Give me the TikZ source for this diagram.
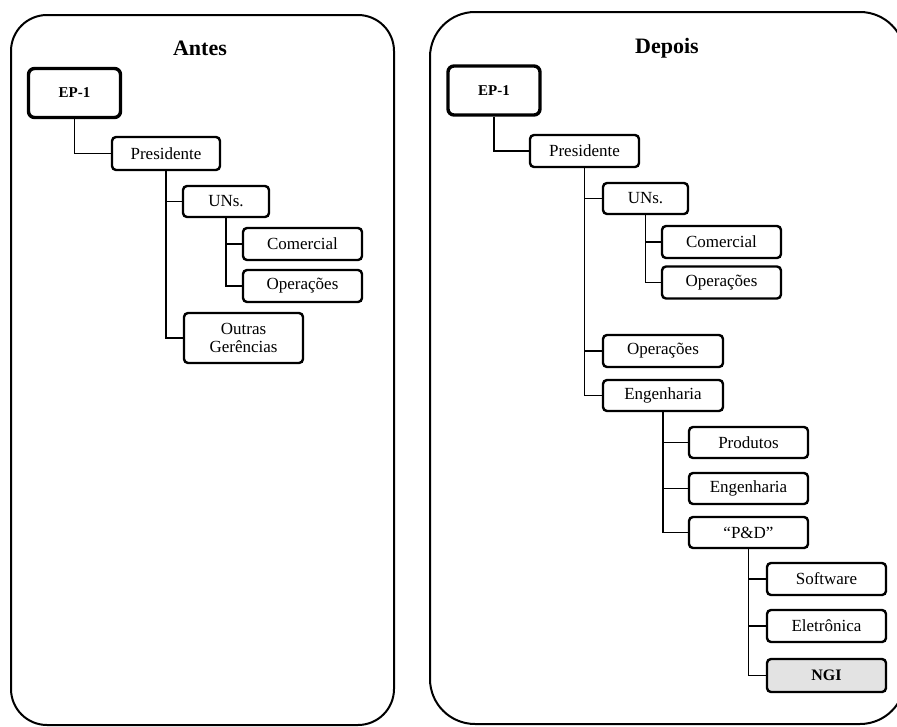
\documentclass[tikz,border=0pt]{standalone}
\usepackage{fontspec}
\setmainfont{Liberation Serif}
\usetikzlibrary{calc}
\begin{document}
\begin{tikzpicture}[x=1pt,y=-1pt,
  panel/.style={line width=2pt, rounded corners=#1},
  orgbox/.style={draw, line width=2.4pt, rounded corners=4pt, fill=white,
    minimum width=119pt, minimum height=32pt, inner sep=0pt,
    font=\fontsize{17}{18}\selectfont},
  topbox/.style={orgbox, line width=3.4pt, rounded corners=6pt,
    minimum width=92pt, minimum height=49pt, font=\fontsize{15}{17}\selectfont\bfseries},
  link/.style={line width=1.8pt},
  ttl/.style={font=\fontsize{22}{24}\selectfont\bfseries}]
\useasboundingbox (0,0) rectangle (897,726);
\clip (0,0) rectangle (897,726);
% panels
\draw[panel=36pt] (11,15) rectangle (394,725);
\draw[panel=45pt] (430,12) rectangle (905,724);
\node[ttl] (tA) at (200,48) {Antes};
\node[ttl] (tD) at (667,48) {Depois};
% ---- Antes ----
\node[topbox] (aep) at (74.5,93) {EP-1};
\node[orgbox, minimum width=108pt, minimum height=33pt] (apres) at (166,153.5) {Presidente};
\node[orgbox, minimum width=86pt, minimum height=31pt] (auns) at (226,201.5) {UNs.};
\node[orgbox] (acom) at (302.5,244) {Comercial};
\node[orgbox] (aope) at (302.5,286) {Operações};
\node[orgbox, minimum height=50pt, align=center] (aout) at (243.5,338) {Outras\\Gerências};
\draw[link] (aep.south) |- (apres.west);
\draw[link] (apres.south) |- (auns.west);
\draw[link] (apres.south) |- (aout.west);
\draw[link] (auns.south) |- (acom.west);
\draw[link] (auns.south) |- (aope.west);
% ---- Depois ----
\node[topbox] (dep) at (494,90.5) {EP-1};
\node[orgbox, minimum width=109pt] (dpres) at (584.5,151) {Presidente};
\node[orgbox, minimum width=85pt, minimum height=31pt] (duns) at (645.5,198.5) {UNs.};
\node[orgbox] (dcom) at (721.5,242) {Comercial};
\node[orgbox] (dope) at (721.5,282.5) {Operações};
\node[orgbox, minimum width=120pt] (dope2) at (663,351) {Operações};
\node[orgbox, minimum width=120pt, minimum height=31pt] (deng) at (663,395.5) {Engenharia};
\node[orgbox, minimum height=31pt] (dprod) at (748.5,442.5) {Produtos};
\node[orgbox, minimum height=31pt] (deng2) at (748.5,488.5) {Engenharia};
\node[orgbox, minimum height=31pt] (dpd) at (748.5,532.5) {“P\&D”};
\node[orgbox] (dsoft) at (826.5,579) {Software};
\node[orgbox] (dele) at (826.5,626) {Eletrônica};
\node[orgbox, fill=gray!22, minimum height=33pt, font=\fontsize{16}{18}\selectfont\bfseries] (dngi) at (826.5,675.5) {NGI};
\draw[link] (dep.south) |- (dpres.west);
\draw[link] (dpres.south) |- (duns.west);
\draw[link] (dpres.south) |- (dope2.west);
\draw[link] (dpres.south) |- (deng.west);
\draw[link] (duns.south) |- (dcom.west);
\draw[link] (duns.south) |- (dope.west);
\draw[link] (deng.south) |- (dprod.west);
\draw[link] (deng.south) |- (deng2.west);
\draw[link] (deng.south) |- (dpd.west);
\draw[link] (dpd.south) |- (dsoft.west);
\draw[link] (dpd.south) |- (dele.west);
\draw[link] (dpd.south) |- (dngi.west);
\end{tikzpicture}
\end{document}
